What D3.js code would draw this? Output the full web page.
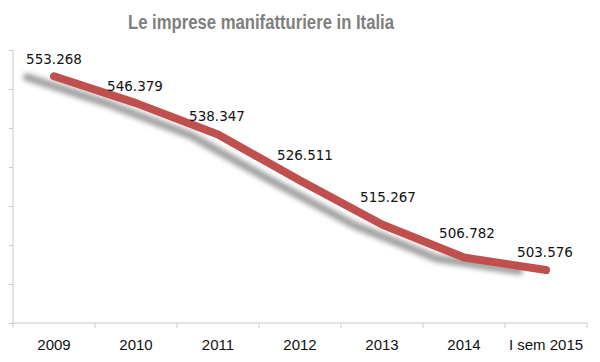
<!DOCTYPE html>
<html>
<head>
<meta charset="utf-8">
<script src="https://cdn.jsdelivr.net/npm/d3@7"></script>
<style>
  body { margin: 0; background: #fff; }
  svg { display: block; }
</style>
</head>
<body>
<div id="chart"></div>
<script>
const categories = ['2009', '2010', '2011', '2012', '2013', '2014', 'I sem 2015'];
const values = [553.268, 546.379, 538.347, 526.511, 515.267, 506.782, 503.576];
const valueLabels = ['553.268', '546.379', '538.347', '526.511', '515.267', '506.782', '503.576'];
const yTicks = [490, 500, 510, 520, 530, 540, 550, 560];

const width = 600, height = 362;
const margin = { top: 50, right: 13, bottom: 39, left: 13 };

// label nudges (dx, lift above the point) as placed in the original
const labelNudge = [[0, 12], [-1, 12], [-1, 13], [5, 21], [6, 22], [3, 20], [-1, 13]];

const svg = d3.select('#chart')
    .append('svg')
    .attr('width', width)
    .attr('height', height);

// blur for the drop shadow under the line
const defs = svg.append('defs');
defs.append('filter')
    .attr('id', 'blur')
    .attr('x', '-10%').attr('y', '-30%')
    .attr('width', '120%').attr('height', '160%')
    .append('feGaussianBlur')
    .attr('stdDeviation', 2.4);

const x = d3.scaleBand()
    .domain(categories)
    .range([margin.left, width - margin.right])
    .padding(0);

const y = d3.scaleLinear()
    .domain([490, 560])
    .range([height - margin.bottom, margin.top]);

const cx = d => x(d) + x.bandwidth() / 2;

// Title
svg.append('text')
    .attr('x', 128)
    .attr('y', 29)
    .attr('textLength', 266)
    .attr('lengthAdjust', 'spacingAndGlyphs')
    .style('font-family', '"Liberation Sans", Arial, sans-serif')
    .style('font-weight', 'bold')
    .style('font-size', '20px')
    .style('fill', '#7f7f7f')
    .text('Le imprese manifatturiere in Italia');

// Y axis (no labels)
const yAxis = svg.append('g')
    .attr('transform', `translate(${margin.left},0)`)
    .call(d3.axisLeft(y).tickValues(yTicks).tickSize(4).tickFormat(''));
yAxis.select('.domain').attr('stroke', '#c8c8c8').attr('d', `M-0,${y(560)}V${y(490)}`);
yAxis.selectAll('.tick line').attr('stroke', '#c8c8c8');

// X axis with tick marks at category boundaries
const xAxis = svg.append('g')
    .attr('transform', `translate(0,${y(490)})`);
xAxis.append('line')
    .attr('x1', margin.left).attr('x2', width - margin.right)
    .attr('stroke', '#c8c8c8');
xAxis.selectAll('.bound')
    .data(categories.concat(['end']))
    .enter()
    .append('line')
    .attr('x1', (d, i) => margin.left + i * x.step())
    .attr('x2', (d, i) => margin.left + i * x.step())
    .attr('y1', 0).attr('y2', 5)
    .attr('stroke', '#c8c8c8');
xAxis.selectAll('.cat')
    .data(categories)
    .enter()
    .append('text')
    .attr('x', d => cx(d))
    .attr('y', 27)
    .attr('text-anchor', 'middle')
    .style('font-family', '"Liberation Sans", Arial, sans-serif')
    .style('font-size', '15px')
    .style('fill', '#111')
    .text(d => d);

const points = categories.map((c, i) => ({ c, v: values[i], label: valueLabels[i], nudge: labelNudge[i] }));

const line = d3.line()
    .x(d => cx(d.c))
    .y(d => y(d.v));

// Shadow
svg.append('path')
    .datum(points)
    .attr('d', line)
    .attr('transform', 'translate(-27,1)')
    .attr('fill', 'none')
    .attr('stroke', '#8a8a8a')
    .attr('stroke-width', 8)
    .attr('stroke-linecap', 'round')
    .attr('stroke-linejoin', 'round')
    .attr('opacity', 0.8)
    .attr('filter', 'url(#blur)');

// Main line
svg.append('path')
    .datum(points)
    .attr('d', line)
    .attr('fill', 'none')
    .attr('stroke', '#c0504d')
    .attr('stroke-width', 8)
    .attr('stroke-linecap', 'round')
    .attr('stroke-linejoin', 'round');

// Data labels
svg.selectAll('.lbl')
    .data(points)
    .enter()
    .append('text')
    .attr('x', d => cx(d.c) + d.nudge[0])
    .attr('y', d => y(d.v) - d.nudge[1])
    .attr('text-anchor', 'middle')
    .style('font-family', '"DejaVu Sans", sans-serif')
    .style('font-size', '13.5px')
    .style('fill', '#111')
    .text(d => d.label);
</script>
</body>
</html>
